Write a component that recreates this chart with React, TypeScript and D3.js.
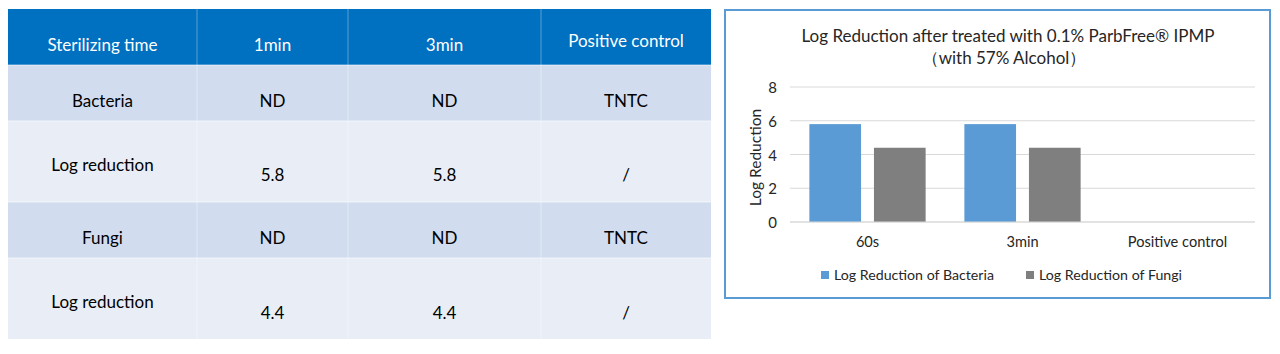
import React from "react";
import * as d3 from "d3";

// ---------- data ----------
const tableHeader = ["Sterilizing time", "1min", "3min", "Positive control"];
const rowBacteria = ["Bacteria", "ND", "ND", "TNTC"];
const rowBacteriaLog = ["Log reduction", "5.8", "5.8", "/"];
const rowFungi = ["Fungi", "ND", "ND", "TNTC"];
const rowFungiLog = ["Log reduction", "4.4", "4.4", "/"];

const categories = ["60s", "3min", "Positive control"];
const seriesNames = ["Log Reduction of Bacteria", "Log Reduction of Fungi"];
const bacteriaValues: (number | null)[] = [5.8, 5.8, null];
const fungiValues: (number | null)[] = [4.4, 4.4, null];
const yTicks = [0, 2, 4, 6, 8];

const chartTitle1 = "Log Reduction after treated with 0.1% ParbFree® IPMP";
const chartTitle2 = "（with 57% Alcohol）";
const yAxisTitle = "Log Reduction";

// ---------- styles ----------
const FONT = "Lato, 'Open Sans', sans-serif";
const HEADER_BG = "#0070C0";
const BAND1 = "#D1DDEF";
const BAND2 = "#E9EEF6";
const BLUE = "#5B9BD5";
const GRAY = "#7F7F7F";
const GRID = "#D9D9D9";
const TEXT = "#262626";

export default function App() {
  // table layout
  const colX = [8, 197, 348, 541, 711];
  const rowY = [9, 65, 121, 202, 258, 339];
  const rows = [tableHeader, rowBacteria, rowBacteriaLog, rowFungi, rowFungiLog];
  const rowFill = [HEADER_BG, BAND1, BAND2, BAND1, BAND2];
  const textDy: [number, number][] = [
    [35, 35],
    [35, 35],
    [43, 53],
    [35, 35],
    [43, 54],
  ];
  const tableFontSize = 17;

  // chart layout
  const plot = { left: 790, right: 1255, top: 87, bottom: 222 };
  const y = d3.scaleLinear().domain([0, 8]).range([plot.bottom, plot.top]);
  const x0 = d3.scaleBand<string>().domain(categories).range([plot.left, plot.right]).padding(0);
  const x1 = d3
    .scaleBand<string>()
    .domain(seriesNames)
    .range([0, x0.bandwidth()])
    .paddingInner(0.2)
    .paddingOuter(0.3);
  const color = d3.scaleOrdinal<string, string>().domain(seriesNames).range([BLUE, GRAY]);
  const seriesValues = [bacteriaValues, fungiValues];
  const tickFont = 15;
  const catFont = 14.6;
  const legendFont = 14.2;

  return (
    <svg
      width={1280}
      height={354}
      style={{ position: "absolute", left: 0, top: 0, background: "#fff" }}
      fontFamily={FONT}
    >
      {/* ---------- table ---------- */}
      <g>
        {rows.map((row, ri) => (
          <g key={"r" + ri}>
            <rect
              x={colX[0]}
              y={rowY[ri]}
              width={colX[4] - colX[0]}
              height={rowY[ri + 1] - rowY[ri]}
              fill={rowFill[ri]}
            />
            {row.map((cell, ci) => {
              const cx = (colX[ci] + colX[ci + 1]) / 2;
              let dy = ci === 0 ? textDy[ri][0] : textDy[ri][1];
              if (ri === 0 && ci === 3) dy = 31;
              return (
                <text
                  key={ci}
                  x={cx}
                  y={rowY[ri] + dy}
                  textAnchor="middle"
                  dominantBaseline="central"
                  fontSize={tableFontSize}
                  fill={ri === 0 ? "#FFFFFF" : "#000000"}
                >
                  {cell}
                </text>
              );
            })}
          </g>
        ))}
        {colX.slice(1, 4).map((cx, i) => (
          <line
            key={"cl" + i}
            x1={cx}
            x2={cx}
            y1={rowY[0]}
            y2={rowY[5]}
            stroke="#FFFFFF"
            strokeOpacity={0.35}
            strokeWidth={1}
          />
        ))}
        {rowY.slice(1, 5).map((ry, i) => (
          <line
            key={"rl" + i}
            x1={colX[0]}
            x2={colX[4]}
            y1={ry}
            y2={ry}
            stroke="#FFFFFF"
            strokeOpacity={0.6}
            strokeWidth={1}
          />
        ))}
      </g>

      {/* ---------- chart ---------- */}
      <rect x={725} y={10} width={545} height={288} fill="#FFFFFF" stroke={BLUE} strokeWidth={2} />

      <text x={1008} y={35} textAnchor="middle" dominantBaseline="central" fontSize={17} fill={TEXT}>
        {chartTitle1}
      </text>
      <text x={1004} y={57} textAnchor="middle" dominantBaseline="central" fontSize={17} fill={TEXT}>
        {chartTitle2}
      </text>

      {yTicks.map((t) => (
        <g key={"t" + t}>
          <line x1={plot.left} x2={plot.right} y1={y(t)} y2={y(t)} stroke={GRID} strokeWidth={1} />
          <text
            x={777}
            y={y(t)}
            textAnchor="end"
            dominantBaseline="central"
            fontSize={tickFont}
            fill={TEXT}
          >
            {t}
          </text>
        </g>
      ))}

      <text
        transform={`translate(755,${(plot.top + plot.bottom) / 2 + 3}) rotate(-90)`}
        textAnchor="middle"
        dominantBaseline="central"
        fontSize={15.5}
        fill={TEXT}
      >
        {yAxisTitle}
      </text>

      {categories.map((c, ci) => (
        <g key={"c" + ci}>
          {seriesNames.map((s, si) => {
            const v = seriesValues[si][ci];
            if (v === null || v === undefined) return null;
            return (
              <rect
                key={s}
                x={(x0(c) ?? 0) + (x1(s) ?? 0)}
                y={y(v)}
                width={x1.bandwidth()}
                height={y(0) - y(v)}
                fill={color(s)}
              />
            );
          })}
          <text
            x={(x0(c) ?? 0) + x0.bandwidth() / 2}
            y={241}
            textAnchor="middle"
            dominantBaseline="central"
            fontSize={catFont}
            fill={TEXT}
          >
            {c}
          </text>
        </g>
      ))}
      <line x1={plot.left} x2={plot.right} y1={y(0)} y2={y(0)} stroke={GRID} strokeWidth={1} />

      {/* legend */}
      {seriesNames.map((s, i) => {
        const lx = i === 0 ? 821 : 1026;
        return (
          <g key={"lg" + i}>
            <rect x={lx} y={271} width={8} height={8} fill={color(s)} />
            <text x={lx + 13} y={274} dominantBaseline="central" fontSize={legendFont} fill={TEXT}>
              {s}
            </text>
          </g>
        );
      })}
    </svg>
  );
}
